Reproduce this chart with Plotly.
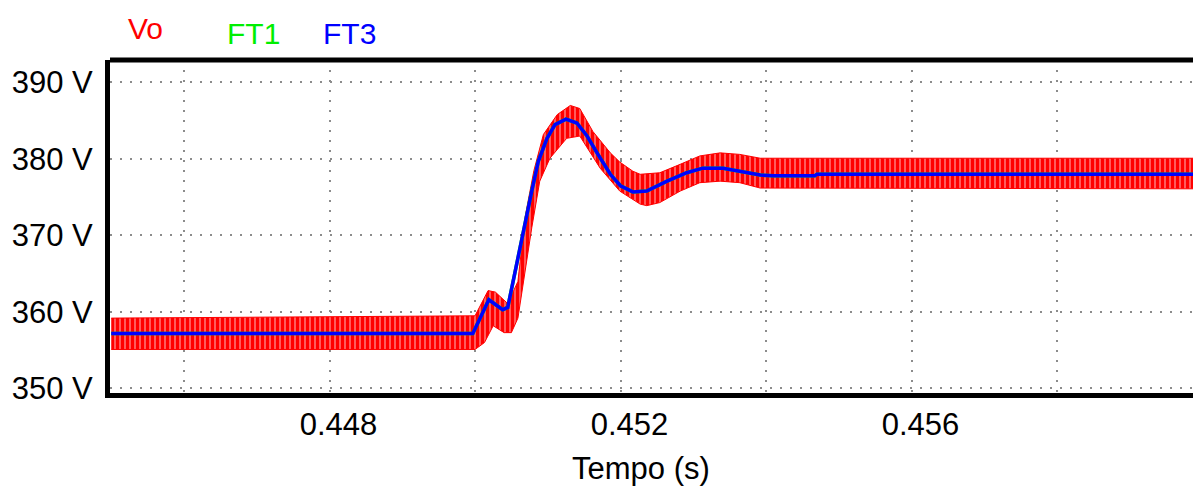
import plotly.graph_objects as go

# ---- data ----
# FT3 (blue) / FT1 (green) filtered output voltage
ft_t = [0.445, 0.44997, 0.45019, 0.45038, 0.45045, 0.45066, 0.45078, 0.45087, 0.45099,
        0.4511, 0.45125, 0.4514, 0.45154, 0.45169, 0.45186, 0.452, 0.45217, 0.45236,
        0.45264, 0.45291, 0.45313, 0.45341, 0.45364, 0.45392, 0.4541, 0.45467, 0.4547, 0.4599]
ft3_v = [357.2, 357.2, 361.6, 360.3, 360.6, 370.6, 375.8, 379.7, 382.7,
         384.5, 385.2, 384.7, 383.0, 380.6, 378.0, 376.5, 375.7, 375.8,
         377.1, 378.2, 378.8, 378.8, 378.4, 377.9, 377.8, 377.8, 378.0, 378.0]
ft1_v = list(ft3_v)

# Vo (red) ripple envelope
vo_up_t = [0.445, 0.45, 0.45018, 0.45028, 0.45045, 0.45059, 0.45069, 0.45081, 0.45094,
           0.45113, 0.45131, 0.45144, 0.45162, 0.45186, 0.45199, 0.45217, 0.45227,
           0.45254, 0.45282, 0.45309, 0.45337, 0.45364, 0.45392, 0.4599]
vo_up_v = [359.2, 359.5, 362.8, 362.6, 361.1, 364.0, 372.5, 378.5, 383.2,
           385.8, 387.0, 386.6, 383.6, 380.8, 379.6, 378.4, 378.0,
           378.2, 379.3, 380.4, 380.8, 380.6, 380.1, 380.1]
vo_lo_t = [0.445, 0.45, 0.45013, 0.45025, 0.4504, 0.4505, 0.45059, 0.45078, 0.45089,
           0.45103, 0.45126, 0.45144, 0.45172, 0.45199, 0.45227, 0.45236, 0.45254,
           0.45282, 0.45309, 0.45337, 0.45364, 0.45392, 0.4599]
vo_lo_v = [355.1, 355.1, 356.0, 358.2, 357.3, 357.3, 359.2, 371.0, 377.1,
           380.1, 382.7, 383.0, 378.8, 375.8, 374.1, 373.9, 374.3,
           375.8, 376.9, 377.1, 376.9, 376.2, 376.1]

x_grid = [0.446, 0.448, 0.450, 0.452, 0.454, 0.456, 0.458]
x_labels = ["", "0.448", "", "0.452", "", "0.456", ""]
y_ticks = [350, 360, 370, 380, 390]
y_labels = [f"{v} V" for v in y_ticks]

FONT = "Liberation Sans, Arial, sans-serif"
L, T, W, H = 110, 60, 1083, 333  # plot area in pixels

fig = go.Figure()
fig.add_trace(go.Scatter(
    x=vo_up_t + vo_lo_t[::-1], y=vo_up_v + vo_lo_v[::-1],
    mode="lines", fill="toself", line=dict(color="red", width=1),
    fillcolor="red",
    fillpattern=dict(shape="|", fgcolor="red", bgcolor="#ffb8b8", fgopacity=1,
                     size=5, solidity=0.8),
    hoverinfo="skip", showlegend=False))
fig.add_trace(go.Scatter(x=ft_t, y=ft1_v, mode="lines",
                         line=dict(color="#00ee00", width=3.5), showlegend=False))
fig.add_trace(go.Scatter(x=ft_t, y=ft3_v, mode="lines",
                         line=dict(color="#0000ff", width=3.5), showlegend=False))

grid = dict(showgrid=True, gridcolor="#8c8c8c", gridwidth=1.5, griddash="2px,8px")
fig.update_xaxes(range=[0.444983, 0.459869], tickvals=x_grid, ticktext=x_labels,
                 showline=True, linecolor="black", linewidth=5, ticks="",
                 zeroline=False, ticklabelshift=9,
                 tickfont=dict(family=FONT, size=31, color="black"),
                 **grid)
fig.update_yaxes(range=[349.41, 392.94], tickvals=y_ticks, ticktext=y_labels,
                 showline=True, linecolor="black", linewidth=5, ticks="",
                 zeroline=False, ticklabelstandoff=6,
                 tickfont=dict(family=FONT, size=31, color="black"),
                 **grid)

fig.add_shape(type="line", xref="paper", yref="paper", x0=0, x1=1, y0=1, y1=1,
              line=dict(color="black", width=5))


def px(x, y):
    return (x - L) / W, 1 - (y - T) / H


ax, ay = px(641, 487)
fig.add_annotation(text="Tempo (s)", xref="paper", yref="paper", x=ax, y=ay,
                   showarrow=False, xanchor="center", yanchor="bottom", borderpad=0,
                   font=dict(family=FONT, size=31, color="black"))

for txt, col, xp, yp in [("Vo", "red", 145, 29), ("FT1", "#00ee00", 253, 34),
                         ("FT3", "#0000ff", 349.5, 34)]:
    ax, ay = px(xp, yp)
    fig.add_annotation(text=txt, xref="paper", yref="paper", x=ax, y=ay,
                       showarrow=False, xanchor="center", yanchor="middle",
                       font=dict(family=FONT, size=30, color=col))

fig.update_layout(width=1193, height=488, paper_bgcolor="white", plot_bgcolor="white",
                  margin=dict(l=L, r=0, t=T, b=95), showlegend=False)

fig.write_html("out.html")
